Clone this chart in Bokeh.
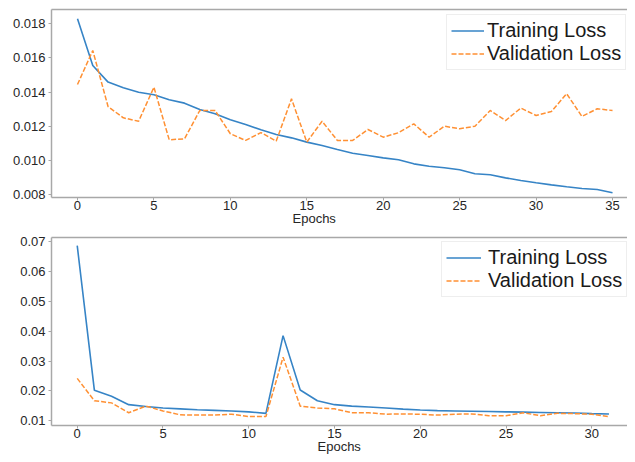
from bokeh.plotting import figure
from bokeh.layouts import column
from bokeh.models import (LinearAxis, FixedTicker, Range1d, Legend, LegendItem,
                          Title, NumeralTickFormatter)
from bokeh.embed import file_html
from bokeh.resources import INLINE

# ---- data ----
epochs_top = list(range(36))
train_top = [0.0183, 0.01556, 0.01459, 0.01426, 0.01400, 0.01385, 0.01356, 0.01336,
             0.01299, 0.01274, 0.01239, 0.01211, 0.01180, 0.01153, 0.01133, 0.01108,
             0.01088, 0.01065, 0.01043, 0.01030, 0.01016, 0.01005, 0.00981, 0.00967,
             0.00958, 0.00946, 0.00923, 0.00917, 0.00899, 0.00884, 0.00870, 0.00858,
             0.00847, 0.00837, 0.00831, 0.00812]
val_top = [0.01445, 0.01644, 0.01316, 0.01250, 0.01230, 0.01429, 0.01122, 0.01127,
           0.01293, 0.01293, 0.01157, 0.01118, 0.01164, 0.01114, 0.01361, 0.01108,
           0.01230, 0.01118, 0.01118, 0.01182, 0.01137, 0.01163, 0.01215, 0.01137,
           0.01201, 0.01186, 0.01201, 0.01293, 0.01234, 0.01307, 0.01264, 0.01287,
           0.01391, 0.01258, 0.01303, 0.01293]

epochs_bot = list(range(32))
train_bot = [0.0686, 0.0202, 0.0182, 0.0154, 0.0148, 0.0143, 0.0140, 0.0137,
             0.0135, 0.0133, 0.0130, 0.0125, 0.0385, 0.0203, 0.0167, 0.0154,
             0.0149, 0.0146, 0.0143, 0.0139, 0.0136, 0.0134, 0.0133, 0.0132,
             0.0131, 0.0130, 0.0129, 0.0128, 0.0127, 0.0126, 0.0124, 0.0123]
val_bot = [0.0242, 0.0167, 0.0160, 0.0127, 0.0149, 0.0133, 0.0120, 0.0119,
           0.0119, 0.0122, 0.0114, 0.0114, 0.0313, 0.0149, 0.0143, 0.0140,
           0.0127, 0.0127, 0.0122, 0.0123, 0.0122, 0.0119, 0.0122, 0.0123,
           0.0117, 0.0117, 0.0127, 0.0117, 0.0125, 0.0124, 0.0122, 0.0114]

xticks_top = [0, 5, 10, 15, 20, 25, 30, 35]
yticks_top = [0.008, 0.010, 0.012, 0.014, 0.016, 0.018]
xticks_bot = [0, 5, 10, 15, 20, 25, 30]
yticks_bot = [0.01, 0.02, 0.03, 0.04, 0.05, 0.06, 0.07]

labels = ["Training Loss", "Validation Loss"]
x_label = "Epochs"

FONT = "Liberation Sans"
BLUE = "#3684c6"
ORANGE = "#ff9033"
SPINE = "#a8a8a8"
TEXT = "#262626"
WIDTH = 627


def make(xs, tr, va, xr, yr, xt, yt, yfmt, fh, bl, bt, bb, leg_xy,
         glyph_w, standoff, lab_offset):
    p = figure(width=WIDTH, height=bt + fh + bb, output_backend="svg",
               toolbar_location=None, x_range=Range1d(*xr), y_range=Range1d(*yr),
               min_border_left=bl, min_border_right=0, min_border_top=bt,
               min_border_bottom=bb, background_fill_color="white",
               border_fill_color="white")
    p.outline_line_color = None
    p.xgrid.grid_line_color = None
    p.ygrid.grid_line_color = None
    for ax in (p.xaxis[0], p.yaxis[0]):
        ax.axis_line_color = SPINE
        ax.axis_line_width = 1.5
        ax.major_tick_line_color = SPINE
        ax.major_tick_out = 3
        ax.major_tick_in = 0
        ax.minor_tick_line_color = None
        ax.major_label_text_font = FONT
        ax.major_label_text_font_size = "13px"
        ax.major_label_text_color = TEXT
    p.xaxis[0].ticker = FixedTicker(ticks=xt)
    p.yaxis[0].ticker = FixedTicker(ticks=yt)
    p.yaxis[0].formatter = NumeralTickFormatter(format=yfmt)
    p.xaxis[0].major_label_standoff = 0
    p.yaxis[0].major_label_standoff = 3

    top = LinearAxis(ticker=FixedTicker(ticks=[]), major_tick_out=0, major_tick_in=0,
                     minor_tick_out=0, minor_tick_in=0, major_label_standoff=0,
                     axis_line_color=SPINE, axis_line_width=1.5,
                     major_label_text_font_size="0px")
    p.add_layout(top, "above")

    r1 = p.line(xs, tr, line_color=BLUE, line_width=1.6)
    r2 = p.line(xs, va, line_color=ORANGE, line_width=1.5, line_dash="5 2")

    leg = Legend(items=[LegendItem(label=labels[0], renderers=[r1]),
                        LegendItem(label=labels[1], renderers=[r2])],
                 location=leg_xy, padding=4, spacing=0, margin=0,
                 glyph_width=glyph_w, glyph_height=23, label_height=23,
                 label_standoff=standoff,
                 label_text_font=FONT, label_text_font_size="20px",
                 label_text_color="#1a1a1a", border_line_color="#dddddd",
                 border_line_width=1, background_fill_color="white",
                 background_fill_alpha=1.0)
    p.add_layout(leg, "center")

    p.add_layout(Title(text=x_label, align="left", offset=lab_offset,
                       vertical_align="top", standoff=-4, text_font=FONT,
                       text_font_size="13px", text_font_style="normal",
                       text_color=TEXT), "below")
    return p


# top: frame 51..627 x 9..197
p1 = make(epochs_top, train_top, val_top, (-1.70, 35.98), (0.007842, 0.018836),
          xticks_top, yticks_top, "0.000", 188, 51, 9, 29, (395, 127),
          33, 3, 241)
# bottom: frame 45..627 x 11..199 (page 237..425)
p2 = make(epochs_bot, train_bot, val_bot, (-1.50, 32.08), (0.008427, 0.071339),
          xticks_bot, yticks_bot, "0.00", 188, 45, 11, 29, (390, 128),
          35, 7, 266)

layout = column(p1, p2, spacing=0)
open("out.html", "w").write(file_html(layout, INLINE))
